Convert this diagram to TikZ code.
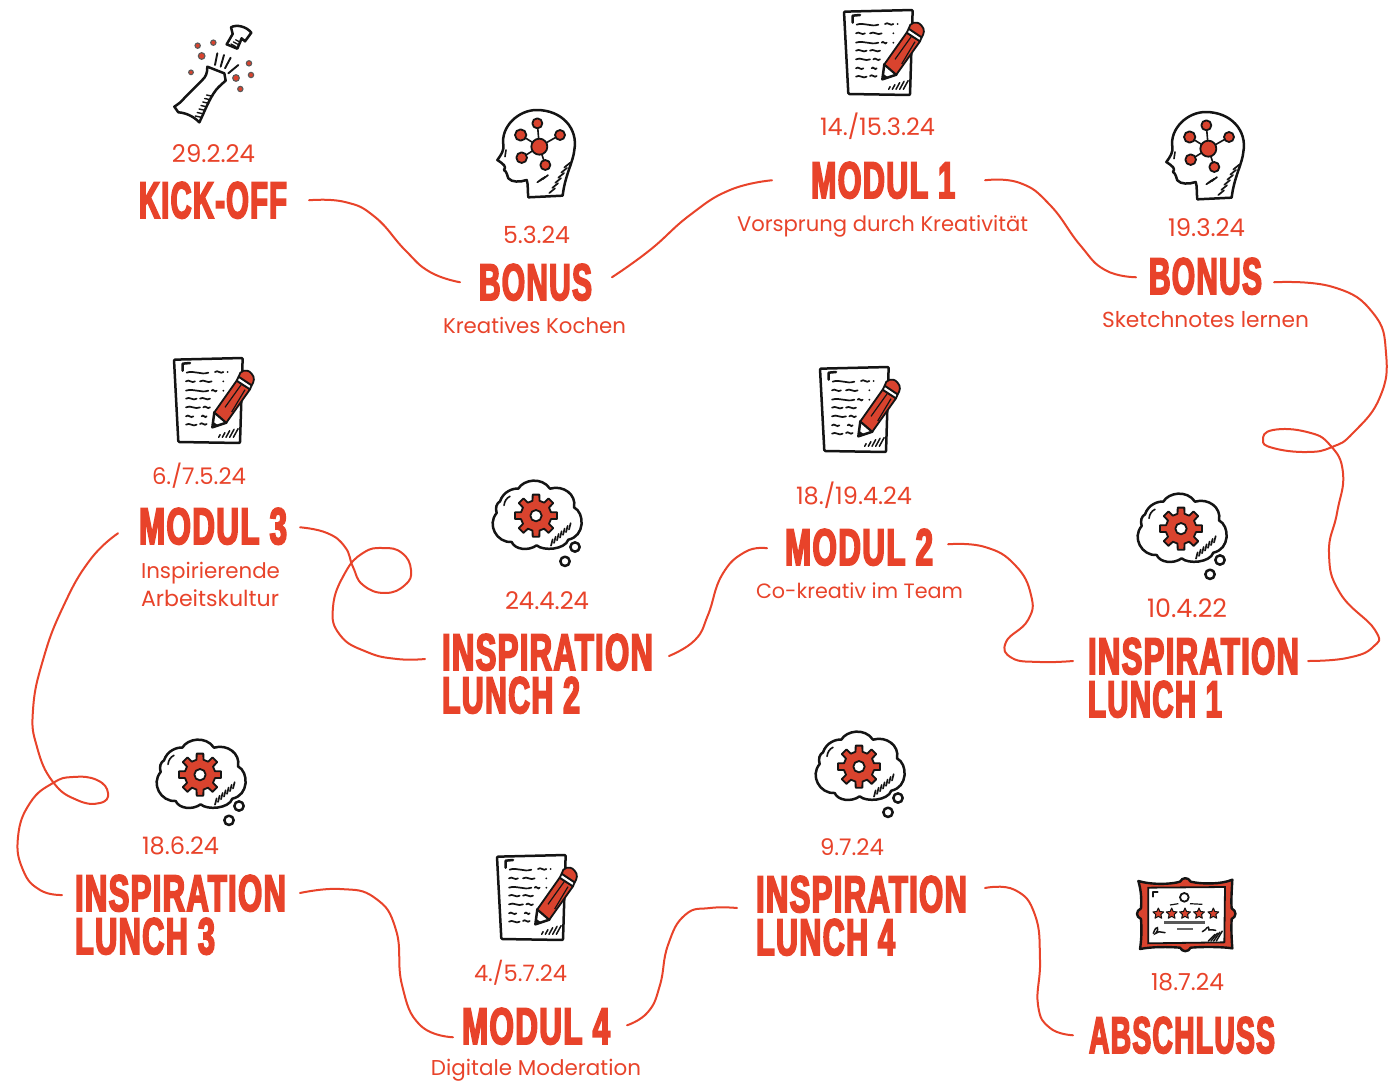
\documentclass[tikz,border=0pt]{standalone}
\usepackage{fontspec}
\usepackage{graphicx}
\newfontfamily\ttlfont[FakeStretch=0.7,LetterSpace=3,BoldFeatures={FakeBold=3.6}]{Liberation Sans}
\newfontfamily\subfont{Poppins}
\definecolor{brand}{HTML}{E8432A}
\definecolor{iconred}{HTML}{D9432E}
\definecolor{ink}{HTML}{141414}
\newcommand{\ttl}[2]{\resizebox{#1pt}{36pt}{\ttlfont\bfseries #2}}
\newcommand{\lbl}[2]{\resizebox{#1pt}{!}{\subfont\fontsize{22}{26}\selectfont #2}}
\tikzset{
 titlebox/.style={inner sep=0pt,outer sep=0pt,text=brand,align=left,font=\fontsize{10}{43}\selectfont,anchor=north west},
 labelbox/.style={inner sep=0pt,outer sep=0pt,text=brand,anchor=base},
 link/.style={draw=brand,line width=2pt,line cap=round,line join=round},
 ln/.style={draw=ink,line width=2.5pt,line cap=round,line join=round},
 hair/.style={draw=ink,line width=1.5pt,line cap=round},
 redfill/.style={fill=iconred,draw=ink,line width=1.8pt,line join=round},
 smoothly/.style={smooth,tension=.8},
 docicon/.pic={
  \draw[ln,fill=white,rounded corners=1pt] (42,35) -- (248,30) -- (240,285) -- (55,282) -- cycle;
  \draw[ln] (68,68) -- (68,47) -- (90,45);
  \foreach \xa/\xb/\yy in {80/145/74,165/190/72,78/105/100,120/155/100,78/145/128,155/170/128,78/110/152,120/150/152,78/120/178,130/150/178,78/100/205,125/140/205,78/110/230,120/140/228}{
    \draw[draw=ink,line width=1.7pt,line cap=round] (\xa,\yy) .. controls ({\xa+(\xb-\xa)/3},{\yy-8}) and ({\xa+(\xb-\xa)*2/3},{\yy+8}) .. (\xb,\yy);}
  \foreach \xx/\yy in {203/72,190/100,190/128}{\fill[ink] (\xx,\yy) circle (3);}
  \foreach \xx/\dd in {176/8,187/14,198/20,209/24,220/26}{\draw[hair] (\xx,268) -- (\xx+\dd*.55,268-\dd);}
  \draw[ln,fill=white] (157,238) -- (163,193) -- (199,224) -- cycle;
  \fill[ink] (157,238) -- (160,222) -- (172,230) -- cycle;
  \draw[redfill] (163,193) -- (230,98) -- (270,124) -- (199,224) -- cycle;
  \draw[redfill,fill=white] (230,98) -- (236,86) -- (275,112) -- (270,124) -- cycle;
  \draw[redfill] (236,86) .. controls (238,68) and (260,60) .. (274,76) .. controls (286,88) and (282,102) .. (275,112) -- cycle;
  \draw[draw=ink,line width=1.2pt] (195,178) -- (245,108) (215,192) -- (255,125);
 },
 brainicon/.pic={
  \draw[ln,fill=white] (145,307) .. controls (142,285) and (145,268) .. (140,255)
    .. controls (120,262) and (95,262) .. (85,250)
    .. controls (80,240) and (82,232) .. (72,225)
    .. controls (80,215) and (72,208) .. (52,195)
    .. controls (65,178) and (72,165) .. (70,150)
    .. controls (62,95) and (115,45) .. (170,45)
    .. controls (245,45) and (295,100) .. (283,165)
    .. controls (280,200) and (255,240) .. (248,302) -- cycle;
  \draw[draw=ink,line width=1.6pt] (178,155) -- (172,85) (178,155) -- (240,120) (178,155) -- (122,120) (178,155) -- (125,188) (178,155) -- (196,210);
  \draw[redfill] (178,155) circle (24);
  \draw[redfill] (172,85) circle (15);
  \draw[redfill] (240,120) circle (15);
  \draw[redfill] (122,120) circle (17);
  \draw[redfill] (125,188) circle (16);
  \draw[redfill] (196,210) circle (15);
  \draw[ln,line width=1.6pt] (78,165) -- (75,185);
  \foreach \dd in {0,9,...,45}{\draw[hair,line width=1.7pt] (208+\dd,294-\dd*1.7) -- (225+\dd,280-\dd*1.7);}
  \foreach \dd in {0,8,16}{\draw[hair,line width=1.7pt] (172+\dd,262-\dd*.6) -- (188+\dd,250-\dd*.6);}
 },
 cloudicon/.pic={
  \draw[ln,fill=white] (60,100) .. controls (70,70) and (100,60) .. (115,62)
    .. controls (130,35) and (185,25) .. (210,62)
    .. controls (250,50) and (290,80) .. (282,118)
    .. controls (315,135) and (315,205) .. (265,215)
    .. controls (255,245) and (190,250) .. (170,232)
    .. controls (145,250) and (105,245) .. (95,222)
    .. controls (50,225) and (20,170) .. (50,135)
    .. controls (45,120) and (50,105) .. (60,100) -- cycle;
  \draw[ln,line width=1.6pt] (72,112) .. controls (74,98) and (80,90) .. (90,85);
  \foreach \dd in {0,9,...,54}{\draw[hair,line width=1.7pt] (213+\dd,233-\dd*.9) -- (218+\dd,214-\dd*.9);}
  \begin{scope}[shift={(168,143)}]
   \draw[redfill] (-13:46) \foreach \aa in {0,45,...,315}{ -- (\aa-13:46) -- (\aa-9:64) -- (\aa+9:64) -- (\aa+13:46)} -- cycle;
   \draw[ln,fill=white,line width=1.8pt] (0,0) circle (17);
  \end{scope}
  \draw[ln] (285,237) circle (14);
  \draw[ln] (255,280) circle (14);
 },
 cheers/.pic={
  \draw[ln,fill=white] (232,170) .. controls (232,190) and (228,200) .. (215,212) -- (165,262) .. controls (155,275) and (145,282) .. (133,290) -- (145,307) .. controls (165,308) and (190,318) .. (208,337) .. controls (222,310) and (235,270) .. (258,240) .. controls (268,228) and (278,220) .. (287,212) -- (283,190) -- cycle;
  \foreach \dd in {0,7,...,42}{\draw[hair,line width=1.4pt] (196+\dd*.8,318-\dd*1.5) -- (214+\dd*.8,322-\dd*1.5);}
  \draw[ln,fill=white] (303,52) .. controls (320,42) and (350,50) .. (364,68) -- (345,94) -- (335,85) -- (322,116) -- (290,103) -- (308,72) -- cycle;
  \foreach \dd in {0,7,14}{\draw[hair,line width=1.3pt] (303+\dd,102-\dd*.9) -- (318+\dd,110-\dd*.9);}
  \foreach \xx/\yy/\rr in {203/107/8,250/98/8,215/138/10,183/187/7,357/160/8,363/195/8,318/204/10,331/237/8}{
    \draw[fill=iconred,draw=ink!70,line width=1.1pt] (\xx,\yy) circle (\rr);}
  \draw[ln,line width=1.9pt] (255,165) -- (262,130) (272,170) -- (282,135) (285,175) -- (302,143) (295,190) -- (325,165);
 },
 frameicon/.pic={
  \draw[redfill,line width=2.4pt] (40,48) .. controls (80,60) and (140,58) .. (165,50) .. controls (172,36) and (190,36) .. (197,50)
    .. controls (230,58) and (290,58) .. (322,44)
    .. controls (320,80) and (318,110) .. (320,130) .. controls (335,138) and (335,155) .. (320,162)
    .. controls (318,190) and (320,225) .. (322,250)
    .. controls (290,245) and (230,245) .. (197,248) .. controls (190,262) and (172,262) .. (165,248)
    .. controls (130,245) and (80,245) .. (45,252)
    .. controls (50,220) and (50,190) .. (48,162) .. controls (32,155) and (32,138) .. (48,130)
    .. controls (50,100) and (48,75) .. (40,48) -- cycle;
  \draw[draw=ink,fill=white,line width=1.8pt] (70,68) -- (300,66) -- (298,232) -- (70,235) -- cycle;
  \draw[ln,line width=2pt] (83,95) -- (83,82) -- (98,82);
  \draw[ln,line width=1.8pt] (178,97) circle (13);
  \draw[draw=ink,line width=1.2pt] (135,120) -- (160,116) (195,116) -- (232,118);
  \foreach \xx in {100,140,180,222,265}{
   \begin{scope}[shift={(\xx,146)}]
    \draw[fill=iconred,draw=ink,line width=1pt,line join=round] (-90:17) -- (-54:8) -- (-18:17) -- (18:8) -- (54:17) -- (90:8) -- (126:17) -- (162:8) -- (198:17) -- (234:8) -- cycle;
   \end{scope}}
  \fill[gray!70!black] (118,168) rectangle (240,178);
  \fill[gray!80!black] (155,189) rectangle (205,196);
  \draw[draw=ink,line width=1.5pt,line cap=round] (85,205) .. controls (95,175) and (105,190) .. (92,205) .. controls (105,195) and (112,205) .. (120,203);
  \draw[draw=ink,line width=1.5pt,line cap=round] (232,200) .. controls (245,195) and (250,175) .. (252,195) .. controls (258,190) and (265,198) .. (272,196);
  \foreach \dd in {0,8,16,24}{\draw[hair] (250+\dd,228) -- (270+\dd*.9,208-\dd*.4);}
 },
}
\begin{document}
\begin{tikzpicture}[x=1pt,y=-1pt]
\useasboundingbox (0,0) rectangle (1392,1081);
% icons
\pic[scale=1/3] at (130,10) {cheers};
\pic[scale=1/3] at (480,95) {brainicon};
\pic[scale=1/3] at (1149,97) {brainicon};
\pic[scale=1/3] at (830,0) {docicon};
\pic[scale=1/3] at (160,348) {docicon};
\pic[scale=1/3] at (806,357) {docicon};
\pic[scale=1/3] at (483,845) {docicon};
\pic[scale=1/3] at (480,468) {cloudicon};
\pic[scale=1/3] at (1125,481) {cloudicon};
\pic[scale=1/3] at (144,727) {cloudicon};
\pic[scale=1/3] at (803,719) {cloudicon};
\pic[scale=1/3] at (1125,865) {frameicon};
% titles
\node[titlebox] (kick) at (139,182) {\ttl{148}{KICK-OFF}};
\node[titlebox] (bonusa) at (479,264) {\ttl{113}{BONUS}};
\node[titlebox] (modula) at (811,162) {\ttl{144}{MODUL 1}};
\node[titlebox] (bonusb) at (1149,258) {\ttl{113}{BONUS}};
\node[titlebox] (lunchb) at (1088,638) {\ttl{211}{INSPIRATION}\\\ttl{134}{LUNCH 1}};
\node[titlebox] (modulb) at (785,529) {\ttl{148}{MODUL 2}};
\node[titlebox] (lunchc) at (442,634) {\ttl{211}{INSPIRATION}\\\ttl{138}{LUNCH 2}};
\node[titlebox] (modulc) at (139,508) {\ttl{148}{MODUL 3}};
\node[titlebox] (lunchd) at (75,875) {\ttl{211}{INSPIRATION}\\\ttl{140}{LUNCH 3}};
\node[titlebox] (moduld) at (462,1008) {\ttl{148}{MODUL 4}};
\node[titlebox] (lunche) at (756,876) {\ttl{211}{INSPIRATION}\\\ttl{139}{LUNCH 4}};
\node[titlebox] (absch) at (1089,1017) {\ttl{186}{ABSCHLUSS}};
% dates
\node[labelbox] (d1) at (213.5,162) {\lbl{83}{29.2.24}};
\node[labelbox] (d2) at (536.5,243) {\lbl{67}{5.3.24}};
\node[labelbox] (d3) at (877.5,135) {\lbl{115}{14./15.3.24}};
\node[labelbox] (d4) at (1206.5,236) {\lbl{77}{19.3.24}};
\node[labelbox] (d5) at (199,484) {\lbl{94}{6./7.5.24}};
\node[labelbox] (d6) at (547,609) {\lbl{84}{24.4.24}};
\node[labelbox] (d7) at (854,504) {\lbl{116}{18./19.4.24}};
\node[labelbox] (d8) at (1187,617) {\lbl{80}{10.4.22}};
\node[labelbox] (d9) at (180.5,854) {\lbl{77}{18.6.24}};
\node[labelbox] (d10) at (520.5,981) {\lbl{93}{4./5.7.24}};
\node[labelbox] (d11) at (852,855) {\lbl{64}{9.7.24}};
\node[labelbox] (d12) at (1187.5,990) {\lbl{73}{18.7.24}};
% subtitles
\node[labelbox] (s1) at (882.5,231) {\lbl{291}{Vorsprung durch Kreativität}};
\node[labelbox] (s2) at (534.5,333) {\lbl{183}{Kreatives Kochen}};
\node[labelbox] (s3) at (1205.5,327) {\lbl{207}{Sketchnotes lernen}};
\node[labelbox] (s4) at (210.5,578) {\lbl{139}{Inspirierende}};
\node[labelbox] (s5) at (210,606) {\lbl{138}{Arbeitskultur}};
\node[labelbox] (s6) at (859.5,598) {\lbl{207}{Co-kreativ im Team}};
\node[labelbox] (s7) at (536,1075) {\lbl{210}{Digitale Moderation}};
% connectors
\draw[link] plot[smoothly] coordinates {([xshift=22pt]kick.east) (345,202) (375,217) (405,250) (430,272) ([xshift=-19pt]bonusa.west)};
\draw[link] plot[smoothly] coordinates {([shift={(20,-5)}]bonusa.east) (650,250) (690,215) (730,190) ([shift={(-39,0)}]modula.west)};
\draw[link] plot[smoothly] coordinates {([xshift=30pt]modula.east) (1020,183) (1050,205) (1080,245) (1105,270) ([shift={(-13,1)}]bonusb.west)};
\draw[link] plot[smoothly] coordinates {([shift={(12,6)}]bonusb.east) (1333,287) (1373,313) (1386,353) (1380,397) (1353,433) (1332,447) (1307,452) (1273,448) (1263,440) (1273,430) (1307,432) (1330,445) (1343,473) (1337,513) (1329,553) (1340,593) (1375,630) (1373,647) (1347,658) ([shift={(9,23)}]lunchb.north east)};
\draw[link] plot[smoothly] coordinates {([shift={(15,-3)}]modulb.east) (985,547) (1015,565) (1031,595) (1028,620) (1006,642) (1012,658) (1040,662) ([shift={(-15,23)}]lunchb.north west)};
\draw[link] plot[smoothly] coordinates {([shift={(-18,1)}]modulb.west) (745,552) (722,575) (708,615) (695,640) ([shift={(16,22)}]lunchc.north east)};
\draw[link] plot[smoothly] coordinates {([shift={(-17,25)}]lunchc.north west) (397,659) (367,652) (340,635) (333,607) (345,573) (363,553) (383,548) (402,553) (411,570) (405,585) (385,593) (363,585) (353,567) (345,547) (327,533) ([shift={(13,1)}]modulc.east)};
\draw[link] plot[smoothly] coordinates {([shift={(-21,7)}]modulc.west) (90,560) (63,607) (43,660) (33,710) (37,747) (53,782) (77,800) (100,803) (108,793) (97,780) (73,777) (53,783) (30,803) (18,837) (23,870) (40,890) ([shift={(-13,20)}]lunchd.north west)};
\draw[link] plot[smoothly] coordinates {([shift={(14,18)}]lunchd.north east) (340,889) (375,898) (396,930) (402,985) (420,1025) ([shift={(-9,11)}]moduld.west)};
\draw[link] plot[smoothly] coordinates {([shift={(17,-1)}]moduld.east) (648,1012) (660,985) (668,945) (685,915) (710,908) ([shift={(-19,32)}]lunche.north west)};
\draw[link] plot[smoothly] coordinates {([shift={(18,12)}]lunche.north east) (1015,890) (1035,915) (1040,960) (1038,1005) (1050,1028) ([shift={(-16,0)}]absch.west)};
\end{tikzpicture}
\end{document}
